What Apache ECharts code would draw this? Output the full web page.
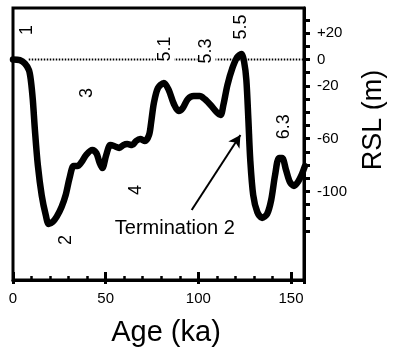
<!DOCTYPE html>
<html>
<head>
<meta charset="utf-8">
<script src="https://cdn.jsdelivr.net/npm/echarts@6/dist/echarts.min.js"></script>
<style>
html,body{margin:0;padding:0;background:#fff;}
#chart{width:395px;height:352px;}
</style>
</head>
<body>
<div id="chart"></div>
<script>
// Age (ka) and relative sea level (m)
var ages = [0, 3.7, 6.4, 8.6, 9.6, 10.7, 11.8, 13.4, 15.5, 17.7, 19.3, 21.4, 23.6, 26.2, 28.4, 30.5, 32.7, 34.8, 37, 39.6, 42.8, 45, 46.6, 48.2, 50.3, 52.5, 54.6, 57.3, 59.5, 61.6, 64.3, 66.4, 68.6, 71.2, 73.4, 74.5, 76, 78.2, 81.4, 84, 86.8, 89.4, 91.6, 94.3, 97.5, 100.7, 103.4, 106.6, 109.8, 112, 113.5, 115.7, 118.4, 121, 123.2, 124.7, 125.9, 127, 128, 129.6, 131.8, 134.4, 137.1, 139.3, 141.4, 143.5, 145.2, 147.3, 149.4, 151.6, 153.7, 155.9, 157.5];
var rsl = [0, -0.5, -3, -8, -15.5, -30.7, -53, -80, -103, -118, -124.6, -123, -119, -111.7, -102.7, -89.8, -80.7, -80.7, -77.7, -72, -68.6, -71, -77.7, -82.2, -72.3, -64.8, -65.5, -67, -64.8, -64, -64.8, -61.7, -60.2, -61.7, -57.2, -48, -33, -21.6, -17.8, -23, -33.7, -39, -36.7, -30, -27.7, -27.7, -30, -34.5, -39.8, -42, -34.5, -19.3, -6.4, 1.9, 4.2, -1.9, -15.5, -45.8, -76, -102.7, -115.5, -120, -117, -106.4, -87.5, -74.6, -74.6, -83.7, -92.8, -95.8, -92.8, -86.7, -80.7];

// present sea level reference line
var refAges = [8.5, 157];
var refRsl = [0, 0];

// axis: plotted range, ticked range, labelled values
var yMin = -167, yMax = 39;
var tickMin = -130, tickMax = 30, tickStep = 10;
var yLabelValues = [20, 0, -20, -60, -100];

// stage annotations
var annoText = ['1', '2', '3', '4', '5.1', '5.3', '5.5', '6.3'];
var annoAge = [7.5, 28.4, 40.2, 66.4, 82, 104.4, 123.2, 146.2];
var annoRsl = [22.3, -136.7, -25.4, -98.9, 8, 6.4, 24.6, -51];

var termText = 'Termination 2';
var termAge = 87.3, termRsl = -127.7;
var arrowFrom = [96.4, -114];
var arrowTo = [122.7, -57.2];

var FONT = 'Liberation Sans, Arial, sans-serif';

var curve = ages.map(function (a, i) { return [a, rsl[i]]; });
var ref = refAges.map(function (a, i) { return [a, refRsl[i]]; });
var annos = annoText.map(function (t, i) {
  var bg = (t === '5.1' || t === '5.3') ? '#fff' : 'transparent';
  return { name: t, value: [annoAge[i], annoRsl[i]],
    label: { rotate: 90, backgroundColor: bg, padding: [0, 4] } };
});
annos.push({ name: termText, value: [termAge, termRsl],
  label: { rotate: 0, fontSize: 20 } });

// pixel layout of the main grid
var gTop = 8, gBottom = 72, H = 352;
var plotH = H - gTop - gBottom;
function yPix(v) { return gTop + (yMax - v) / (yMax - yMin) * plotH; }
var g2Top = yPix(tickMax);
var g2Bottom = H - yPix(tickMin);

var chart = echarts.init(document.getElementById('chart'));
chart.setOption({
  animation: false,
  backgroundColor: '#fff',
  grid: [
    { left: 13, right: 89, top: gTop, bottom: gBottom, show: true,
      borderColor: '#000', borderWidth: 3, backgroundColor: 'transparent' },
    { left: 13, right: 89, top: g2Top, bottom: g2Bottom, show: false }
  ],
  xAxis: [{
    type: 'value', gridIndex: 0, min: 0, max: 157, interval: 50,
    name: 'Age (ka)', nameLocation: 'middle', nameGap: 38,
    nameTextStyle: { fontSize: 29, color: '#000', fontFamily: FONT, padding: [0, 0, 0, 15] },
    axisLine: { show: true, onZero: false, lineStyle: { color: '#000', width: 3 } },
    axisTick: { show: true, inside: true, length: 8, lineStyle: { color: '#000', width: 3 } },
    minorTick: { show: true, splitNumber: 5, length: 4, lineStyle: { color: '#000', width: 2.5 } },
    splitLine: { show: false },
    axisLabel: { fontSize: 15, color: '#000', fontFamily: FONT, margin: 11, showMaxLabel: false }
  }, {
    type: 'value', gridIndex: 0, min: 0, max: 157, interval: 50, position: 'bottom',
    axisLine: { show: false, onZero: false },
    axisTick: { show: true, inside: false, length: 4, lineStyle: { color: '#000', width: 3 } },
    splitLine: { show: false },
    axisLabel: { show: false }
  }, {
    type: 'value', gridIndex: 1, min: 0, max: 157, show: false,
    axisLine: { onZero: false }
  }],
  yAxis: [{
    type: 'value', gridIndex: 0, position: 'right', min: yMin, max: yMax,
    name: 'RSL (m)', nameLocation: 'middle', nameRotate: 90, nameGap: 56,
    nameTextStyle: { fontSize: 27, color: '#000', fontFamily: FONT, padding: [0, 0, 0, 48] },
    axisLine: { show: true, onZero: false, lineStyle: { color: '#000', width: 3 } },
    axisTick: { show: false },
    axisLabel: { show: false },
    splitLine: { show: false }
  }, {
    type: 'value', gridIndex: 1, position: 'right', min: tickMin, max: tickMax, interval: tickStep,
    axisLine: { show: false, onZero: false },
    axisTick: { show: true, inside: false, length: 4, lineStyle: { color: '#000', width: 3 } },
    splitLine: { show: false },
    axisLabel: { fontSize: 15, color: '#000', fontFamily: FONT, margin: 11,
      showMinLabel: true, showMaxLabel: true,
      formatter: function (v) {
        if (yLabelValues.indexOf(v) < 0) return '';
        return v > 0 ? '+' + v : String(v);
      } }
  }],
  series: [{
    type: 'line', data: ref, symbol: 'none', z: 1, silent: true,
    lineStyle: { color: '#000', width: 2, type: [1.5, 1.5] }
  }, {
    type: 'line', data: curve, symbol: 'none', smooth: 0.3, z: 3, clip: true,
    lineStyle: { color: '#000', width: 6.5, cap: 'round', join: 'round' }
  }, {
    type: 'scatter', data: annos, symbolSize: 0, z: 5, silent: true,
    itemStyle: { opacity: 1 },
    label: { show: true, position: 'inside', formatter: '{b}', fontSize: 18,
      color: '#000', fontFamily: FONT, align: 'center', verticalAlign: 'middle' },
    markLine: {
      silent: true, symbol: ['none', 'arrow'], symbolSize: [10, 12],
      label: { show: false },
      lineStyle: { color: '#000', width: 2, type: 'solid', opacity: 1 },
      data: [[{ coord: arrowFrom }, { coord: arrowTo }]]
    }
  }]
});
</script>
</body>
</html>
